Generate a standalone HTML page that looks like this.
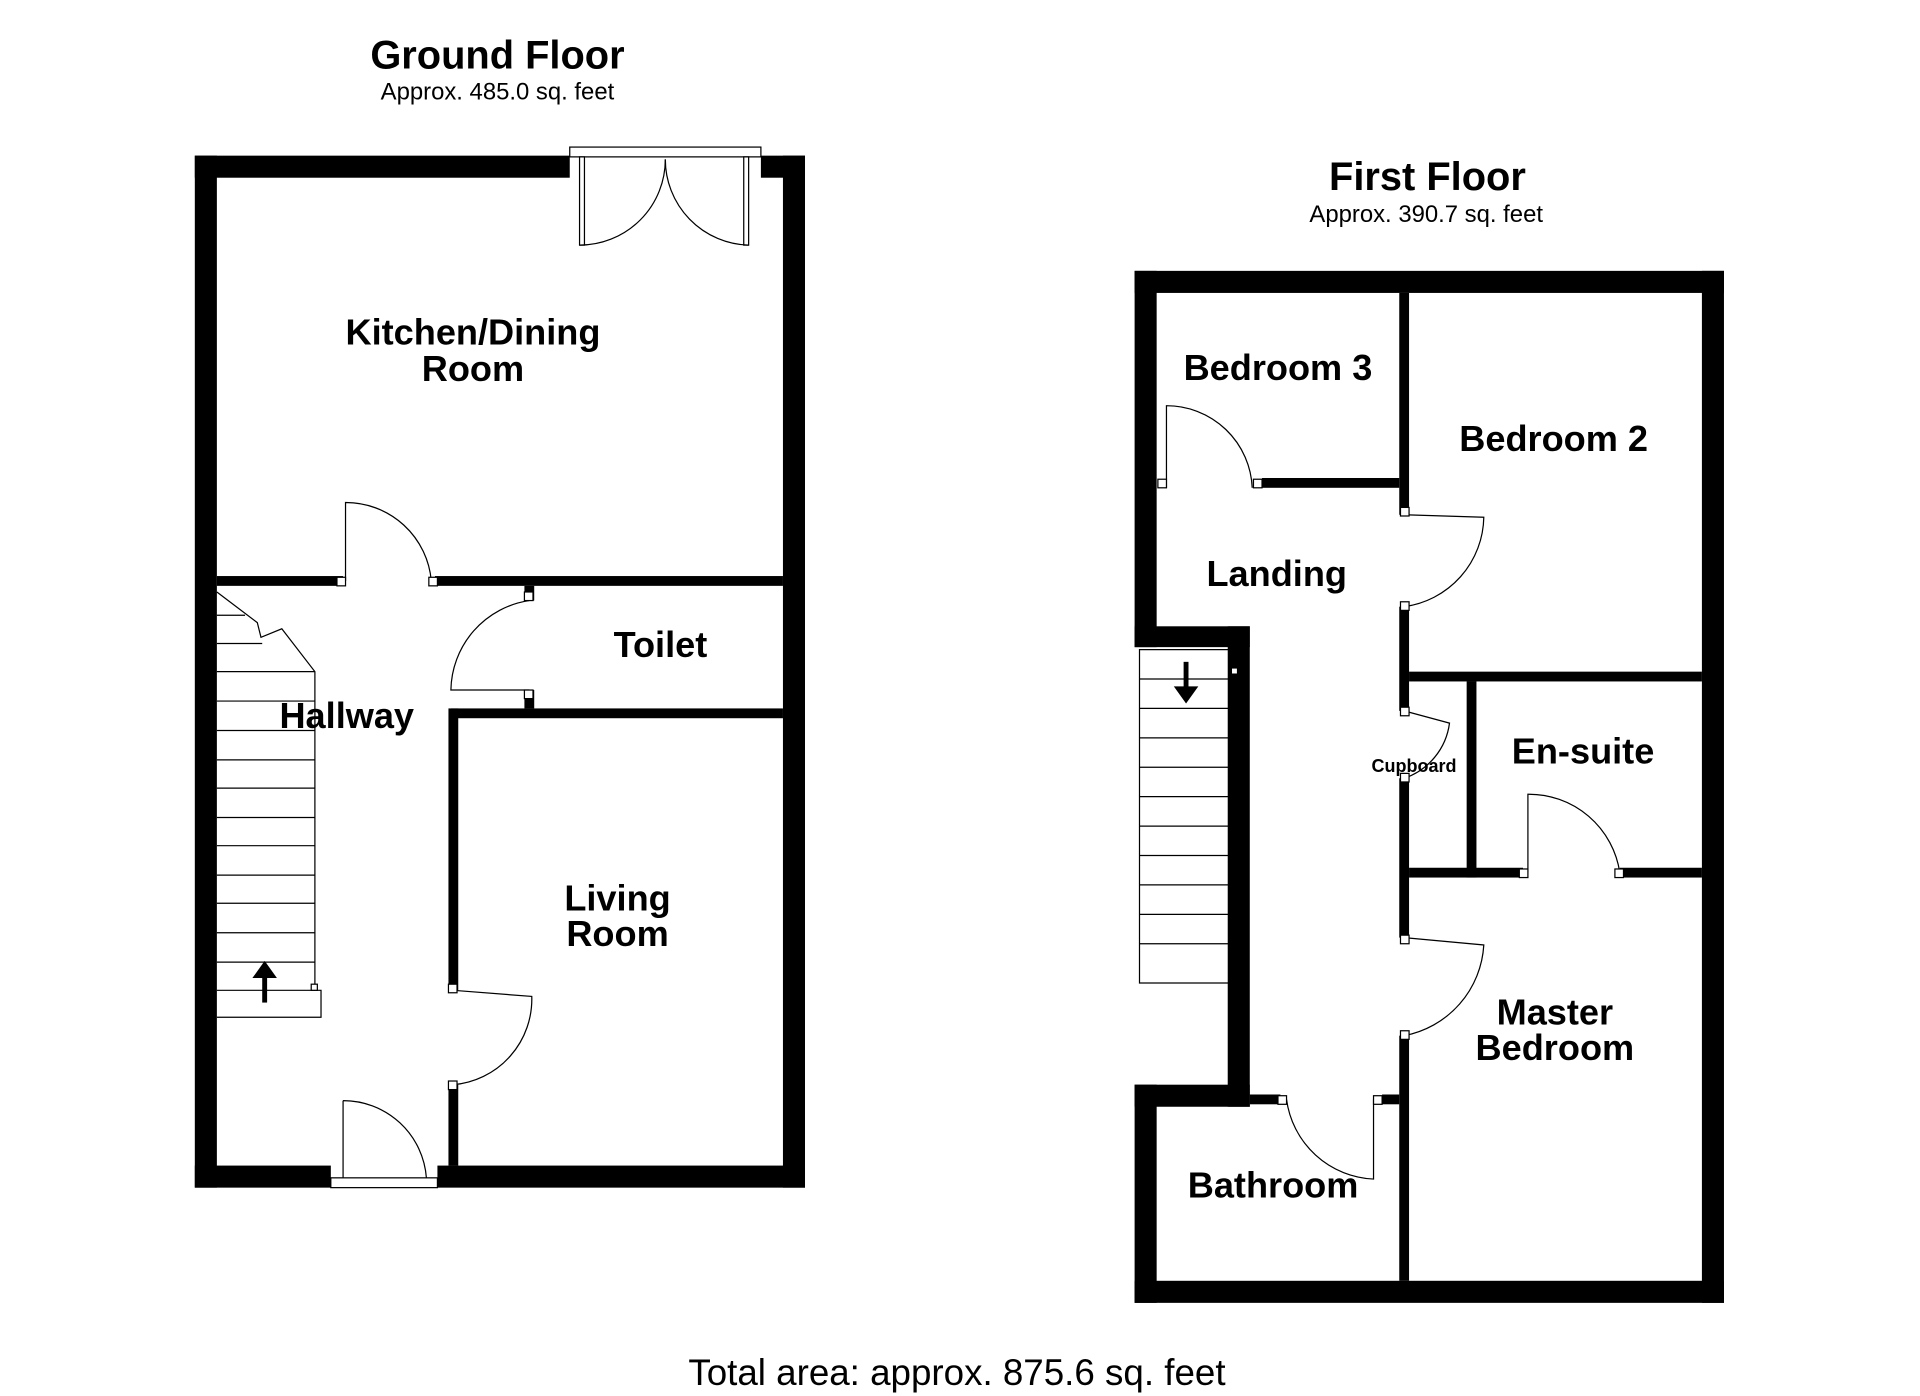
<!DOCTYPE html>
<html><head><meta charset="utf-8"><style>html,body{margin:0;padding:0;background:#fff;width:1920px;height:1396px;overflow:hidden}svg{display:block}</style></head><body>
<svg width="1920" height="1396" viewBox="0 0 1567 1139" preserveAspectRatio="none" xmlns="http://www.w3.org/2000/svg" font-family="Liberation Sans, sans-serif">
<rect width="1567" height="1139" fill="#fff"/>
<g fill="#000" stroke="none">
<rect x="159" y="127" width="306" height="18"/>
<rect x="621" y="127" width="36" height="18"/>
<rect x="159" y="127" width="18" height="842"/>
<rect x="639" y="127" width="18" height="842"/>
<rect x="159" y="951" width="111" height="18"/>
<rect x="357" y="951" width="300" height="18"/>
<rect x="177" y="470" width="103" height="8"/>
<rect x="355" y="470" width="284" height="8"/>
<rect x="368" y="578" width="271" height="8"/>
<rect x="428" y="478" width="8" height="12"/>
<rect x="428" y="563" width="8" height="15"/>
<rect x="366" y="578" width="8" height="230"/>
<rect x="366" y="885" width="8" height="66"/>
<rect x="926" y="221" width="481" height="18"/>
<rect x="1389" y="221" width="18" height="842"/>
<rect x="926" y="1045" width="481" height="18"/>
<rect x="926" y="221" width="18" height="307"/>
<rect x="926" y="511" width="94" height="17"/>
<rect x="1002" y="511" width="18" height="392"/>
<rect x="926" y="885" width="94" height="18"/>
<rect x="926" y="885" width="18" height="178"/>
<rect x="1142" y="239" width="8" height="181"/>
<rect x="1030" y="390" width="112" height="8"/>
<rect x="1142" y="495" width="8" height="85"/>
<rect x="1142" y="635" width="8" height="130"/>
<rect x="1142" y="845" width="8" height="200"/>
<rect x="1150" y="548" width="239" height="8"/>
<rect x="1197" y="556" width="8" height="160"/>
<rect x="1150" y="708" width="93" height="8"/>
<rect x="1322" y="708" width="67" height="8"/>
<rect x="1020" y="893" width="25" height="8"/>
<rect x="1128" y="893" width="14" height="8"/>
</g>
<g fill="none" stroke="#000" stroke-width="1">
<rect x="465" y="120" width="156" height="8"/>
<rect x="473" y="128" width="4" height="72" fill="#fff"/>
<rect x="607" y="128" width="4" height="72" fill="#fff"/>
<path d="M473 200 A70 70 0 0 0 543 130"/>
<path d="M611 200 A70 70 0 0 1 543 130"/>
<rect x="270" y="961" width="87" height="8"/>
<path d="M280 898 L280 961 M280 898 A68 68 0 0 1 348 961 L348 961"/>
<path d="M282 474 L282 410 A70 70 0 0 1 352 474"/>
<path d="M432 490 A75 75 0 0 0 368 563 L432 563"/>
<path d="M370 808 L434 813 A70 70 0 0 1 370 885"/>
<path d="M177 483 L210 508 L213 520 L230 513 L257 548 L257 808 L262 808 L262 830 L177 830"/>
<path d="M177 502 L200 502 M177 525 L214 525 M177 548 L257 548 M177 572 L257 572 M177 596 L257 596 M177 620 L257 620 M177 643 L257 643 M177 667 L257 667 M177 690 L257 690 M177 714 L257 714 M177 737 L257 737 M177 761 L257 761 M177 785 L257 785 M177 808 L257 808"/>
<path d="M952 398 L952 331 A70 70 0 0 1 1022 398"/>
<path d="M1146 420 L1211 422 A75 75 0 0 1 1146 495"/>
<path d="M1146 580 L1183 590 A55 55 0 0 1 1146 635"/>
<path d="M1247 712 L1247 648 A75 75 0 0 1 1322 712"/>
<path d="M1146 765 L1211 771 A80 80 0 0 1 1146 845"/>
<path d="M1050 897 A75 75 0 0 0 1121 962 L1121 897"/>
<path d="M930 530 L1008 530 L1008 802 L930 802 Z"/>
<path d="M930 554 L1006 554 M930 578 L1006 578 M930 602 L1006 602 M930 626 L1006 626 M930 650 L1006 650 M930 674 L1006 674 M930 698 L1006 698 M930 722 L1006 722 M930 746 L1006 746 M930 770 L1006 770"/>
</g>
<g fill="#fff" stroke="#000" stroke-width="1">
<rect x="275" y="471" width="7" height="7"/><rect x="350" y="471" width="7" height="7"/>
<rect x="428" y="483" width="7" height="7"/><rect x="428" y="563" width="7" height="7"/>
<rect x="366" y="803" width="7" height="7"/><rect x="366" y="882" width="7" height="7"/>
<rect x="945" y="391" width="7" height="7"/><rect x="1023" y="391" width="7" height="7"/>
<rect x="1143" y="414" width="7" height="7"/><rect x="1143" y="491" width="7" height="7"/>
<rect x="1143" y="577" width="7" height="7"/><rect x="1143" y="631" width="7" height="7"/>
<rect x="1240" y="709" width="7" height="7"/><rect x="1318" y="709" width="7" height="7"/>
<rect x="1143" y="763" width="7" height="7"/><rect x="1143" y="841" width="7" height="7"/>
<rect x="1043" y="894" width="7" height="7"/><rect x="1121" y="894" width="7" height="7"/>
<rect x="254" y="803" width="5" height="5"/><rect x="1005" y="545" width="5" height="5"/>
</g>
<path d="M216 818 L216 796" stroke="#000" stroke-width="4"/><path d="M206 798 L216 784 L226 798 Z"/>
<path d="M968 540 L968 562" stroke="#000" stroke-width="4"/><path d="M958 560 L968 574 L978 560 Z"/>
<g font-weight="bold" text-anchor="middle" font-size="29.5">
<text x="406" y="56" font-size="32.5">Ground Floor</text>
<text x="1165" y="155" font-size="32.5">First Floor</text>
<text x="386" y="281">Kitchen/Dining</text><text x="386" y="311">Room</text>
<text x="539" y="536">Toilet</text>
<text x="283" y="594">Hallway</text>
<text x="504" y="743">Living</text><text x="504" y="772">Room</text>
<text x="1043" y="310">Bedroom 3</text>
<text x="1268" y="368">Bedroom 2</text>
<text x="1042" y="478">Landing</text>
<text x="1292" y="623">En-suite</text>
<text x="1154" y="630" font-size="14.7">Cupboard</text>
<text x="1269" y="836">Master</text><text x="1269" y="865">Bedroom</text>
<text x="1039" y="977">Bathroom</text>
</g>
<g text-anchor="middle" font-size="19.5">
<text x="406" y="81">Approx. 485.0 sq. feet</text>
<text x="1164" y="181">Approx. 390.7 sq. feet</text>
<text x="781" y="1130" font-size="30">Total area: approx. 875.6 sq. feet</text>
</g>
</svg>
</body></html>
